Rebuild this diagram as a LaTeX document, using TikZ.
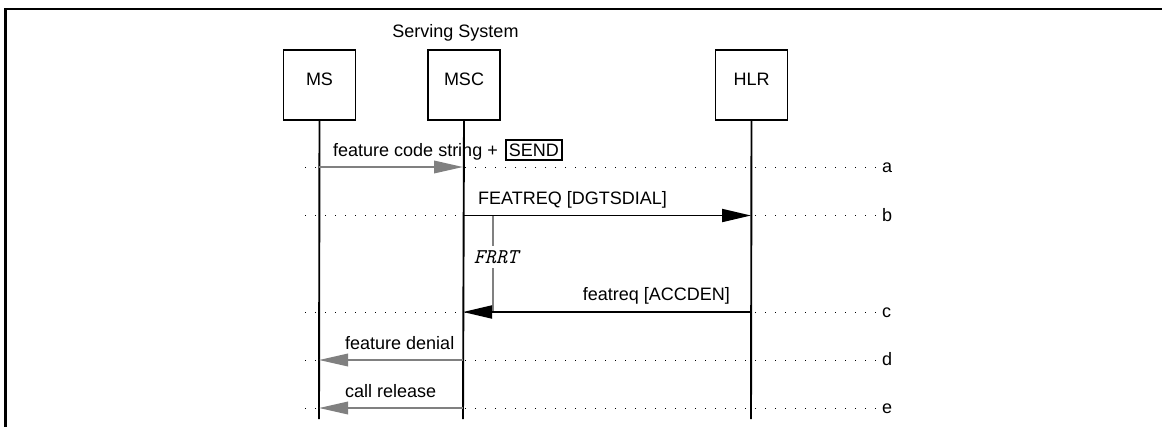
\documentclass[tikz,border=0pt]{standalone}
\usepackage{fontspec}
\setmainfont{Liberation Sans}
\usetikzlibrary{arrows.meta}
\begin{document}
\begin{tikzpicture}[x=1pt,y=-1pt,
  txt/.style={inner sep=0pt, font=\fontsize{18}{20}\selectfont},
  ent/.style={draw, line width=1.9pt, minimum width=72pt, minimum height=70pt, inner sep=0pt},
  life/.style={line width=1.9pt},
  rowdot/.style={line width=1pt, dash pattern=on 1pt off 9pt},
  barrow/.style={line width=1.9pt, -{Triangle[length=29pt,width=13pt]}},
  garrow/.style={line width=1.9pt, gray, -{Triangle[length=29pt,width=12.5pt]}},
  timer/.style={line width=1.6pt, gray},
  sendbox/.style={draw, line width=1.5pt, inner xsep=3pt, inner ysep=3.5pt, text height=12.9pt, text depth=0pt, font=\fontsize{18}{20}\selectfont},
]
\useasboundingbox (0,0) rectangle (1162,426);
% frame
\draw[line width=2.5pt] (5.3,430) -- (5.3,9) -- (1166,9);

% entities
\node[ent] (MS) at (319.5,85) {};
\node[ent] (MSC) at (464,85) {};
\node[ent] (HLR) at (751.5,85) {};
\node[txt, anchor=base] (MS-t) at (319.5,85) {MS};
\node[txt, anchor=base] (MSC-t) at (464,85) {MSC};
\node[txt, anchor=base] (HLR-t) at (751.5,85) {HLR};
\node[txt, anchor=base] (SS) at (455.5,37) {Serving System};

% row coordinates
\foreach \r/\y in {a/167,b/215.5,c/312,d/360,e/408}{
  \coordinate (MS-\r) at (319,\y);
  \coordinate (MSC-\r) at (463,\y);
  \coordinate (HLR-\r) at (751,\y);
  \coordinate (dotL-\r) at (305,\y);
  \coordinate (dotR-\r) at (880,\y);
  \draw[rowdot] (dotL-\r) -- (dotR-\r);
  \node[txt, anchor=base west] (row-\r) at (882,\y+5.5) {\r};
}
\coordinate (MS-end) at (319,419);
\coordinate (MSC-end) at (463,419);
\coordinate (HLR-end) at (751,419);

% lifelines
\draw[life] (MS.south) -- (MS-end);
\draw[life] (MSC.south) -- (MSC-end);
\draw[life] (HLR.south) -- (HLR-end);

% timer
\coordinate (frrt-top) at (493,215.5);
\coordinate (frrt-bot) at (493,312);
\draw[timer] (frrt-top) -- (frrt-bot);
\node[fill=white, inner xsep=0pt, inner ysep=4pt, font=\fontsize{21}{23}\ttfamily\itshape] (FRRT) at (496,257) {FRRT};

% messages
\draw[garrow] (MS-a) -- (MSC-a);
\node[txt, anchor=base west] (labA) at (333,156.5) {feature code string +};
\node[sendbox, anchor=base west] (sendA) at ([xshift=7pt]labA.base east) {SEND};

\draw[barrow] (MSC-b) -- (HLR-b);
\node[txt, anchor=base west] (labB) at (478,204.5) {FEATREQ [DGTSDIAL]};

\draw[barrow] (HLR-c) -- (MSC-c);
\node[txt, anchor=base east] (labC) at (730,300.5) {featreq [ACCDEN]};

\draw[garrow] (MSC-d) -- (MS-d);
\node[txt, anchor=base west] (labD) at (345,349) {feature denial};

\draw[garrow] (MSC-e) -- (MS-e);
\node[txt, anchor=base west] (labE) at (345,397) {call release};
\end{tikzpicture}
\end{document}
